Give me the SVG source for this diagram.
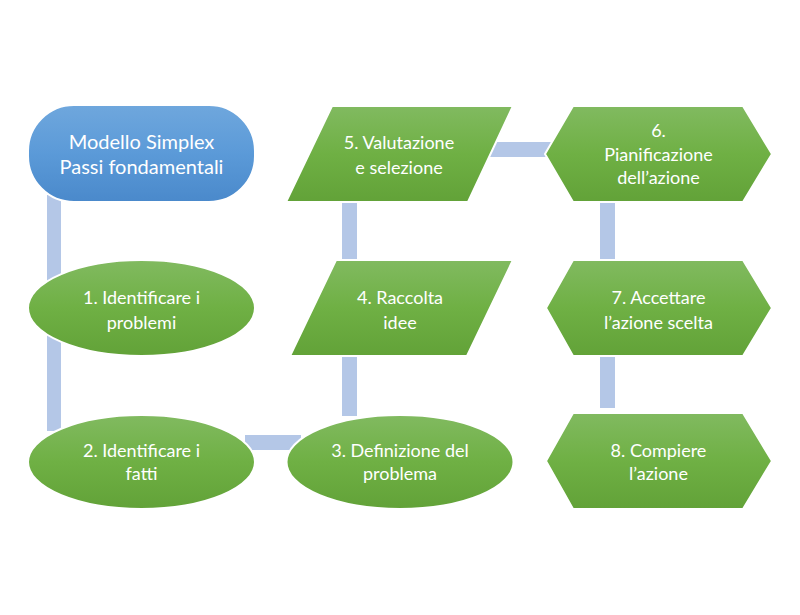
<svg xmlns="http://www.w3.org/2000/svg" width="800" height="615" viewBox="0 0 800 615">
<defs>
<linearGradient id="gGreen" x1="0" y1="0" x2="0" y2="1">
<stop offset="0" stop-color="#81ba60"/>
<stop offset="0.5" stop-color="#6fb044"/>
<stop offset="1" stop-color="#62a238"/>
</linearGradient>
<linearGradient id="gBlue" x1="0" y1="0" x2="0" y2="1">
<stop offset="0" stop-color="#6fa7dd"/>
<stop offset="0.5" stop-color="#5b9ad8"/>
<stop offset="1" stop-color="#4a89cb"/>
</linearGradient>
</defs>
<style>
.g{fill:url(#gGreen);stroke:#ffffff;stroke-width:2}
.b{fill:url(#gBlue);stroke:#ffffff;stroke-width:2}
.c{fill:#b4c7e7}
text{font-family:Lato,"Liberation Sans",sans-serif;font-size:18px;fill:#ffffff;text-anchor:middle}
.big{font-size:20px}
</style>
<rect width="800" height="615" fill="#ffffff"/>
<g id="connectors">
<rect class="c" x="47" y="195" width="14" height="236"/>
<rect class="c" x="245" y="435" width="56" height="15"/>
<rect class="c" x="342" y="350" width="15" height="66"/>
<rect class="c" x="342" y="198" width="15" height="66"/>
<rect class="c" x="490" y="142" width="62" height="15"/>
<rect class="c" x="600" y="198" width="15" height="66"/>
<rect class="c" x="600" y="352" width="15" height="56"/>
</g>
<g id="n0">
<rect class="b" x="28" y="105" width="227" height="97" rx="46" ry="46"/>
<text class="big" x="141.5" y="149">Modello Simplex</text>
<text class="big" x="141.5" y="174">Passi fondamentali</text>
</g>
<g id="n1">
<ellipse class="g" cx="141.5" cy="308" rx="113.5" ry="48"/>
<text x="141.5" y="303.5">1. Identificare i</text>
<text x="141.5" y="328.5">problemi</text>
</g>
<g id="n2">
<ellipse class="g" cx="141.5" cy="462" rx="113.5" ry="47"/>
<text x="141.5" y="456.5">2. Identificare i</text>
<text x="141.5" y="480">fatti</text>
</g>
<g id="n3">
<ellipse class="g" cx="400" cy="462" rx="113.5" ry="47"/>
<text x="400" y="456.5">3. Definizione del</text>
<text x="400" y="480">problema</text>
</g>
<g id="n4">
<polygon class="g" points="336,260 513,260 467,356 290,356"/>
<text x="400" y="303.5">4. Raccolta</text>
<text x="400" y="328.5">idee</text>
</g>
<g id="n5">
<polygon class="g" points="332,106 513,106 468,202 286,202"/>
<text x="399" y="148.5">5. Valutazione</text>
<text x="399" y="173.5">e selezione</text>
</g>
<g id="n6">
<polygon class="g" points="545,154 573,106 743,106 772,154 743,202 573,202"/>
<text x="658.5" y="136.5">6.</text>
<text x="658.5" y="161">Pianificazione</text>
<text x="658.5" y="184">dell’azione</text>
</g>
<g id="n7">
<polygon class="g" points="546,308 573,260 743,260 772,308 743,356 573,356"/>
<text x="658.5" y="303.5">7. Accettare</text>
<text x="658.5" y="328.5">l’azione scelta</text>
</g>
<g id="n8">
<polygon class="g" points="546,461 573,413 743,413 772,461 743,509 573,509"/>
<text x="658.5" y="456.5">8. Compiere</text>
<text x="658.5" y="480">l’azione</text>
</g>
</svg>
